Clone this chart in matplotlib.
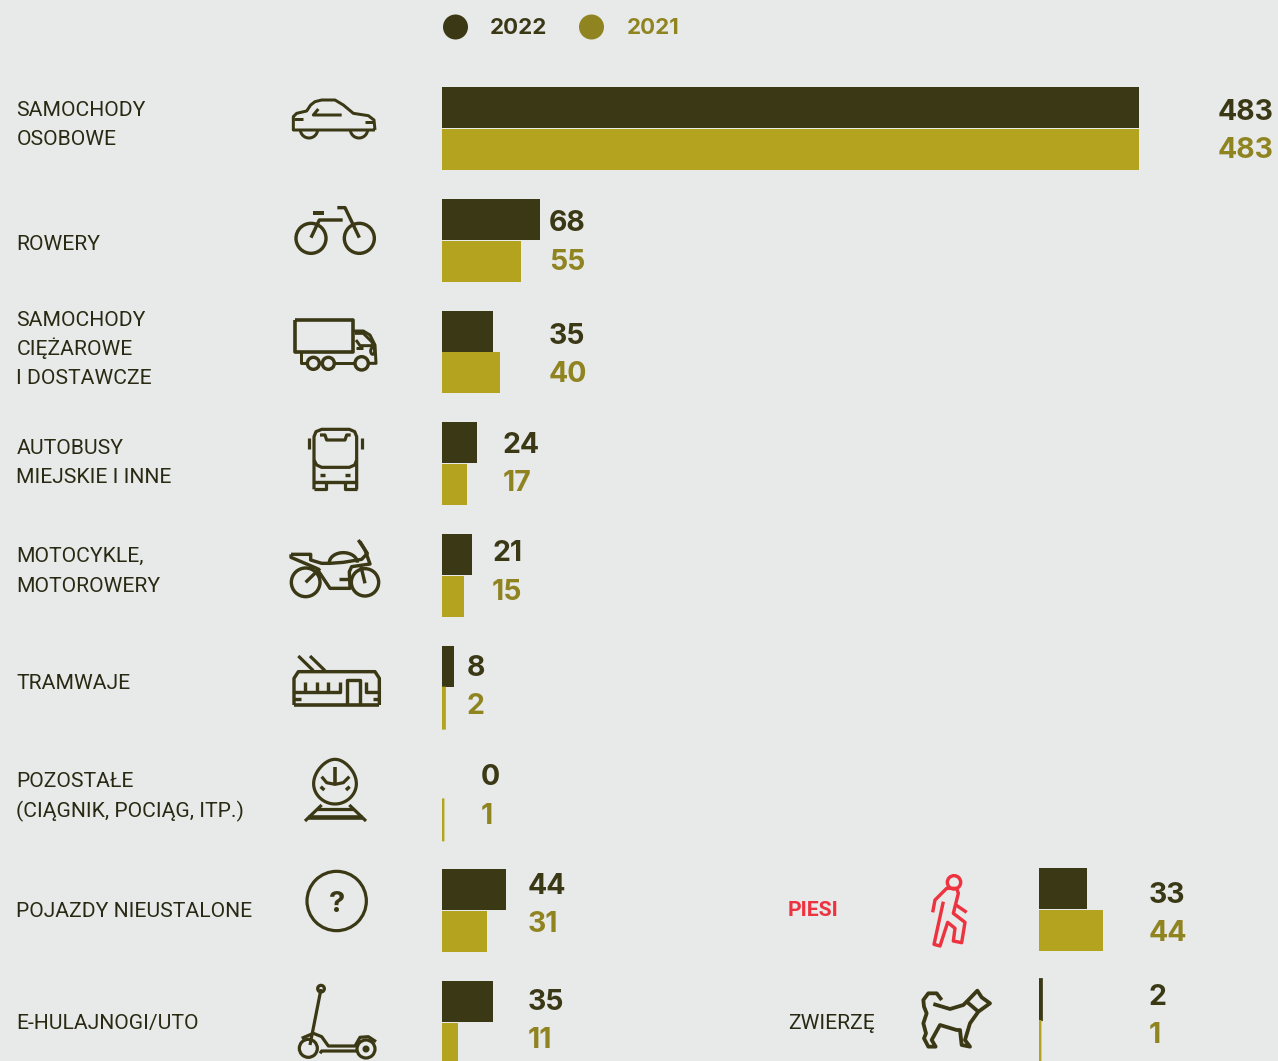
import numpy as np
import matplotlib
matplotlib.use("Agg")
import matplotlib.pyplot as plt
from matplotlib.patches import Circle

# ---- data ----
categories = ["SAMOCHODY\nOSOBOWE", "ROWERY", "SAMOCHODY\nCIĘŻAROWE\nI DOSTAWCZE",
              "AUTOBUSY\nMIEJSKIE I INNE", "MOTOCYKLE,\nMOTOROWERY", "TRAMWAJE",
              "POZOSTAŁE\n(CIĄGNIK, POCIĄG, ITP.)", "POJAZDY NIEUSTALONE", "E-HULAJNOGI/UTO"]
values_2022 = [483, 68, 35, 24, 21, 8, 0, 44, 35]
values_2021 = [483, 55, 40, 17, 15, 2, 1, 31, 11]
side_categories = ["PIESI", "ZWIERZĘ"]
side_2022 = [33, 2]
side_2021 = [44, 1]
series_names = ["2022", "2021"]

# ---- style / layout ----
W, H = 1278, 1061
BG = "#E8EAE9"
DARK = "#3A3815"
GOLD = "#B3A31F"
GOLDTXT = "#8F8420"
RED = "#EE3340"
ROW0, ROWSTEP = 128.5, 111.75
PXPER = 1.444
label_x_px = [1218, 549, 549, 503, 492, 467, 481, 528, 528]
label_y_22 = [109, 220.5, 333, 442.5, 550.5, 665, 774.5, 883, 999]
label_y_21 = [147, 259, 371, 480.5, 589, 703, 813, 921, 1037]
cat_y = [[108.5, 137.5], [242], [318, 347.5, 377], [446.5, 475.5], [554, 584], [681.5], [779.5, 809.5], [909.5], [1021.5]]
side_cat_y = [908.5, 1021.5]
side_label_y_22 = [892.5, 994.5]
side_label_y_21 = [930.5, 1032.5]

fig = plt.figure(figsize=(W / 100, H / 100), dpi=100, facecolor=BG)
ax = fig.add_axes([0, 0, 1, 1], facecolor="none", zorder=3)
ax.set_xlim(0, W); ax.set_ylim(H, 0); ax.axis("off")


def bar_axes(left_px, width_px):
    a = fig.add_axes([left_px / W, 0, width_px / W, 1], facecolor="none")
    a.set_xlim(0, width_px / PXPER)
    a.set_ylim((H - ROW0) / ROWSTEP, -ROW0 / ROWSTEP)
    a.axis("off")
    return a


def thicken(container, vals):
    # very small values are drawn with a visible minimum width, as in the source
    for patch, v in zip(container, vals):
        if 0 < v <= 2:
            patch.set_edgecolor(patch.get_facecolor())
            patch.set_linewidth(1.4)
            patch.set_snap(False)


BARH, OFF = 0.367, 0.187
a1 = bar_axes(442, W - 442)
rows = np.arange(len(categories))
a1.barh(rows - OFF, values_2022, height=BARH, color=DARK, linewidth=0)
c = a1.barh(rows + OFF, values_2021, height=BARH, color=GOLD, linewidth=0)
thicken(c, values_2021)
a2 = bar_axes(1039, W - 1039)
srows = np.array([7, 8]) - np.array([0.01, 0.018])
c = a2.barh(srows - OFF, side_2022, height=BARH, color=DARK, linewidth=0)
thicken(c, side_2022)
c = a2.barh(srows + OFF, side_2021, height=BARH, color=GOLD, linewidth=0)
thicken(c, side_2021)

NUM = dict(family="Inter", fontweight="bold", fontsize=20.5)
CAT = dict(family="Roboto", fontsize=15.2, color="#2A2A14")


def num(x, yc, s, c):
    ax.text(x, yc + 10.5, str(s), color=c, va="baseline", ha="left", **NUM)


def cat(x, yc, s, **kw):
    d = dict(CAT); d.update(kw)
    ax.text(x, yc + 7.5, s, va="baseline", ha="left", **d)


for i, name in enumerate(categories):
    for line, y in zip(name.split("\n"), cat_y[i]):
        cat(16.5, y, line)
    num(label_x_px[i], label_y_22[i], values_2022[i], DARK)
    num(label_x_px[i], label_y_21[i], values_2021[i], GOLDTXT)

cat(788, side_cat_y[0], side_categories[0], color=RED, fontweight="bold")
cat(788, side_cat_y[1], side_categories[1])
for i in range(2):
    num(1149, side_label_y_22[i], side_2022[i], DARK)
    num(1149, side_label_y_21[i], side_2021[i], GOLDTXT)

# legend
ax.add_patch(Circle((455.5, 27), 12.5, color=DARK, lw=0))
ax.add_patch(Circle((591.5, 27), 12.5, color=GOLDTXT, lw=0))
ax.text(490, 34.5, series_names[0], color=DARK, family="Inter", fontweight="bold", fontsize=16, va="baseline")
ax.text(627, 34.5, series_names[1], color=GOLDTXT, family="Inter", fontweight="bold", fontsize=16, va="baseline")


# ---- icons (zoomed-crop coordinates -> pixels) ----
class Icon:
    def __init__(self, ox, oy, c=DARK):
        self.ox, self.oy, self.c = ox, oy, c

    def line(self, pts, lw=3.0):
        p = np.array(pts, float) / 3
        ax.plot(p[:, 0] + self.ox, p[:, 1] + self.oy, color=self.c, lw=lw * 0.72,
                solid_capstyle="butt", solid_joinstyle="round")

    def circ(self, x, y, r, lw=3.0, fill=False):
        ax.add_patch(Circle((self.ox + x / 3, self.oy + y / 3), r / 3, fill=fill, ec=self.c,
                            fc=self.c if fill else "none", lw=lw * 0.72))

    def arc(self, x, y, r, a0, a1, lw=3.0, ry=None):
        t = np.radians(np.linspace(a0, a1, 40))
        ry = r if ry is None else ry
        self.line(np.c_[x + r * np.cos(t), y + ry * np.sin(t)], lw)


# car
i = Icon(280, 85)
i.line([(285, 135), (40, 135), (40, 95), (50, 85), (80, 78), (92, 60), (105, 50), (125, 45), (165, 45),
        (190, 60), (220, 85), (265, 92), (282, 105), (285, 135)])
i.arc(87, 133, 26, 0, 180); i.arc(237, 133, 26, 0, 180)
i.line([(185, 90), (100, 90), (115, 72)])
i.line([(42, 103), (68, 103)]); i.line([(255, 112), (282, 112)])
# bike
i.circ(93, 460, 45, 3.4); i.circ(238, 460, 45, 3.4)
i.line([(93, 458), (118, 405), (188, 405)], 3.4)
i.line([(100, 384), (132, 384)], 4)
i.line([(172, 368), (195, 368), (238, 458)], 3.4)
# truck
i.line([(44, 705), (220, 705), (220, 800), (44, 800), (44, 705)], 3.6)
i.line([(64, 800), (64, 835), (82, 835)]); i.line([(165, 835), (225, 835)])
i.circ(100, 835, 18, 3.4); i.circ(145, 835, 18, 3.4); i.circ(245, 835, 20, 3.4)
i.line([(265, 835), (288, 835), (285, 780), (270, 750), (250, 738), (220, 738)])
i.line([(225, 745), (250, 745), (275, 770), (280, 782), (240, 782), (228, 765)])
i.line([(228, 790), (250, 790)])
i.arc(278, 798, 6, 0, 360, ry=10)
# bus
i = Icon(280, 420)
i.line([(102, 208), (102, 50), (108, 35), (125, 28), (208, 28), (224, 35), (230, 50), (230, 208)], 3.2)
i.line([(102, 120), (110, 135), (125, 142), (208, 142), (224, 135), (230, 120)], 3.2)
i.line([(120, 45), (135, 45), (140, 60), (195, 60), (200, 45), (212, 45)], 3.2)
i.line([(86, 55), (86, 87)], 3.2); i.line([(245, 55), (245, 87)], 3.2)
i.line([(120, 166), (135, 166)], 3.4); i.line([(195, 166), (210, 166)], 3.4)
i.line([(102, 185), (230, 185)], 3.4)
i.line([(102, 208), (137, 208), (137, 185)], 3.2); i.line([(195, 185), (195, 208), (230, 208)], 3.2)
# motorcycle
i.circ(77, 487, 43, 3.4); i.circ(255, 487, 41, 3.4)
i.line([(33, 403), (92, 403), (92, 420), (125, 430), (150, 430), (190, 427), (245, 418), (262, 400), (235, 360)], 3.4)
i.line([(240, 365), (255, 390), (270, 432), (215, 440), (208, 455), (210, 505), (150, 505), (110, 445), (33, 412), (33, 403)], 3.4)
i.arc(190, 428, 42, 180, 360, 3.4, ry=30)
i.line([(77, 487), (120, 445)], 3.4); i.line([(255, 490), (243, 440)], 3.4); i.line([(178, 478), (208, 478)], 3.4)
# tram
i.line([(42, 855), (42, 775), (55, 755), (285, 755), (298, 775), (298, 855)], 3.4)
i.line([(42, 855), (298, 855)], 3.6)
i.line([(55, 708), (100, 752)], 3.2); i.line([(90, 708), (135, 752)], 3.2)
i.line([(42, 815), (180, 815), (180, 785)], 3.4)
for tx in (75, 110, 145):
    i.line([(tx, 785), (tx, 815)], 3.4)
i.line([(200, 855), (200, 780), (240, 780), (240, 855)], 3.4)
i.line([(258, 785), (258, 815), (298, 815)], 3.4)
i.line([(42, 836), (62, 836)], 3.4); i.line([(280, 836), (298, 836)], 3.4)
# train
i = Icon(280, 750)
t = np.radians(np.linspace(0, 360, 80))
ex = 165 + 58 * np.cos(t) * (1 + 0.12 * np.sin(t) + 0.1 * np.cos(t) ** 2)
ey = 95 + 67 * np.sin(t)
i.line(np.c_[ex, ey], 3.2)
i.line([(125, 80), (140, 98), (165, 103), (190, 98), (208, 80)], 3.2)
i.line([(165, 50), (165, 100)], 3.6)
i.line([(122, 110), (133, 120)], 3.4); i.line([(198, 120), (209, 110)], 3.4)
i.line([(75, 213), (125, 165)], 3.2); i.line([(258, 213), (208, 165)], 3.2)
i.line([(85, 200), (245, 200)], 4.6); i.line([(110, 177), (222, 177)], 3.2)
# question
i.circ(170, 453, 89, lw=3.2)
ax.text(337, 901, "?", color=DARK, family="Inter", fontweight="bold", fontsize=21, ha="center", va="center_baseline")
# scooter
i.line([(123, 717), (90, 885)], 3.2); i.circ(123, 716, 10, 3.2)
i.circ(85, 895, 27, 3.2); i.circ(258, 897, 27, 3.2); i.circ(258, 897, 6, fill=True)
i.line([(65, 865), (100, 850), (125, 860), (145, 888), (225, 888), (240, 862), (265, 860), (288, 875)], 3.2)
i.line([(120, 910), (125, 903), (232, 903)], 3.2)
# pedestrian
i = Icon(900, 860, RED)
i.circ(162, 67, 20, 3.4)
i.line([(98, 157), (105, 120), (140, 85), (170, 85), (175, 100), (160, 160), (195, 187), (185, 248), (160, 243),
        (165, 205), (143, 187), (120, 258), (102, 253), (130, 125)], 3.4)
i.line([(165, 133), (200, 157)], 3.4)
# dog
i = Icon(900, 860)
i.line([(125, 420), (110, 400), (85, 400), (70, 420), (72, 440), (80, 460), (70, 490), (78, 520), (72, 535),
        (85, 560), (107, 560), (95, 540), (120, 495), (170, 510), (180, 510), (185, 555), (210, 560), (195, 540),
        (210, 490), (235, 455), (270, 430), (245, 412), (232, 392), (205, 420), (190, 435), (150, 447), (100, 432)], 3.8)
i.line([(200, 425), (235, 455)], 3.8)

fig.savefig("out.png", dpi=100, facecolor=BG)
